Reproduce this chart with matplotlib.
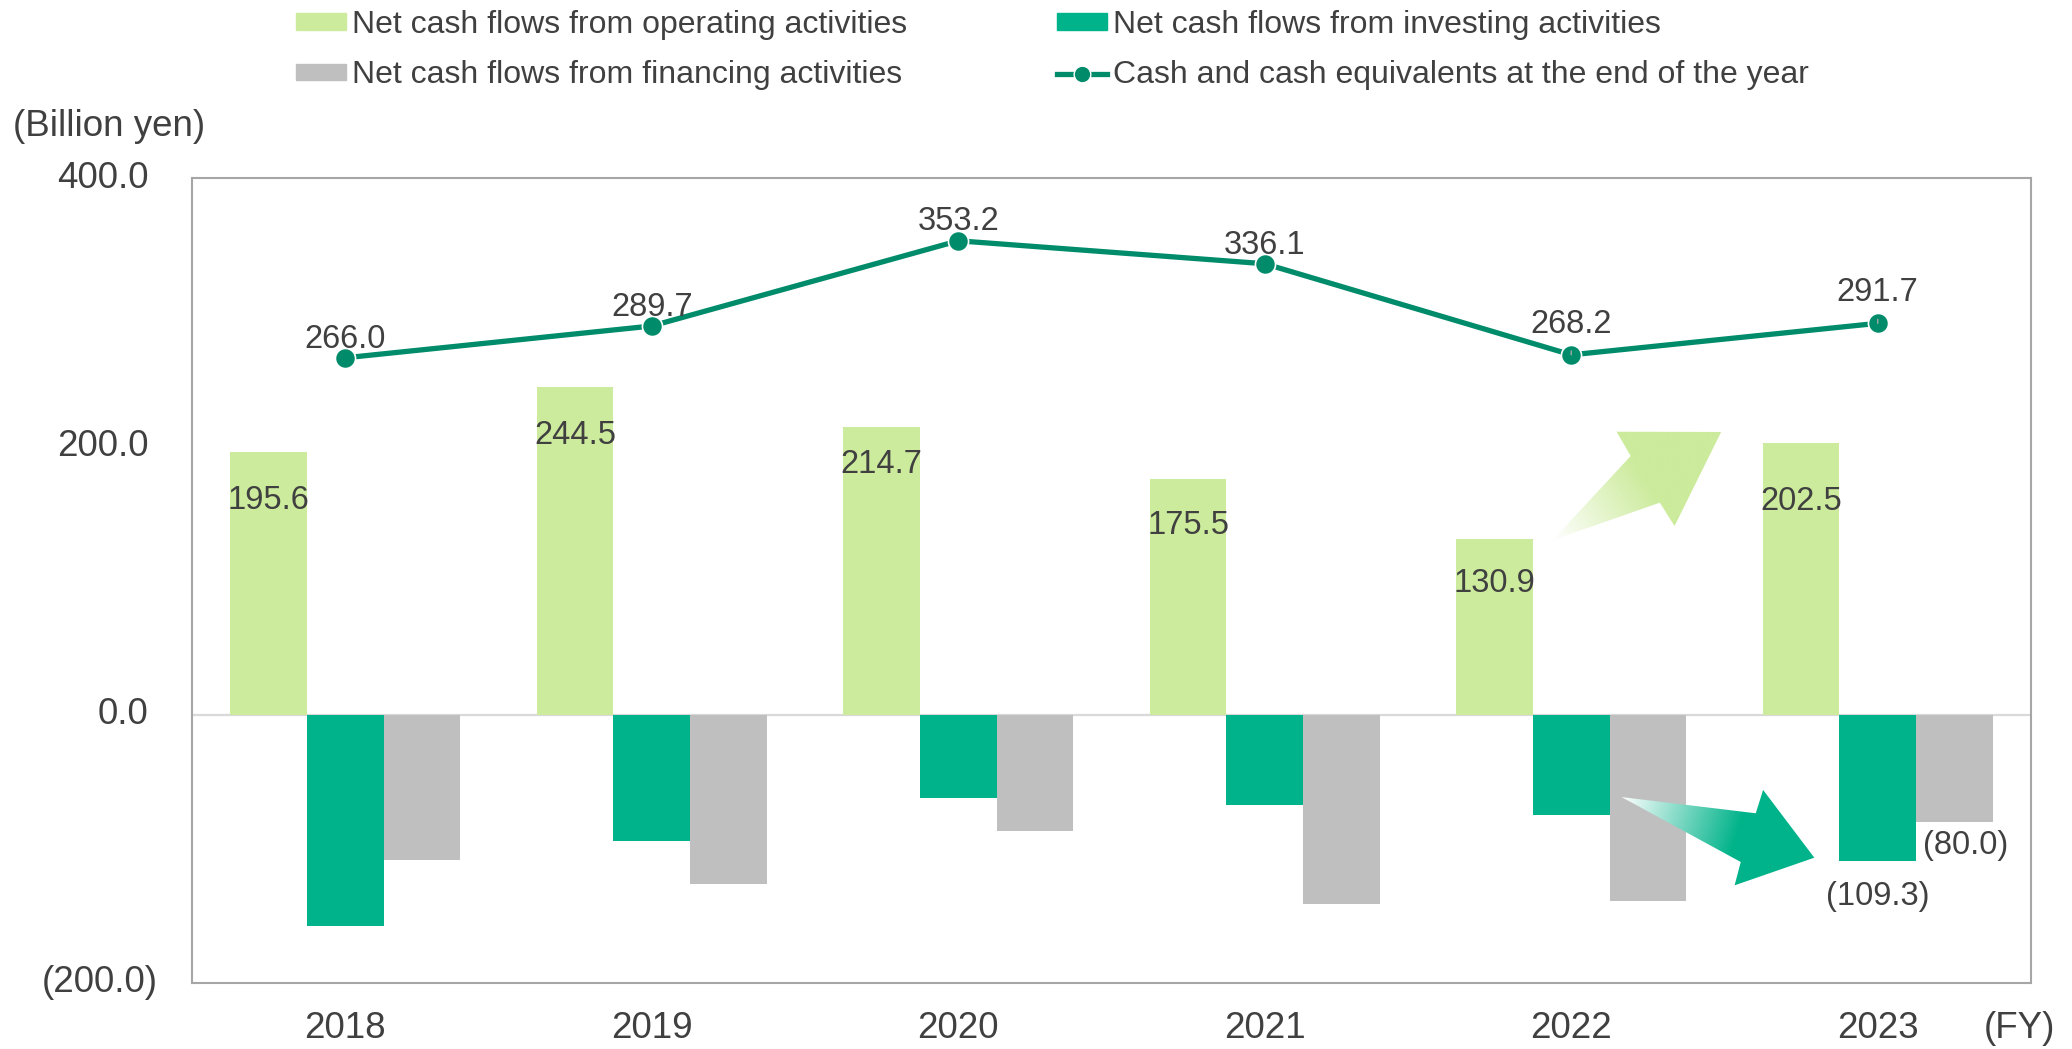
import numpy as np
import matplotlib
matplotlib.use("Agg")
import matplotlib.pyplot as plt
from matplotlib.patches import Polygon, Patch
from matplotlib.lines import Line2D

plt.rcParams['font.family'] = ['Liberation Sans', 'DejaVu Sans']

# data (billion yen)
years = ['2018', '2019', '2020', '2021', '2022', '2023']
operating = [195.6, 244.5, 214.7, 175.5, 130.9, 202.5]
investing = [-157.8, -94.2, -61.9, -67.3, -74.8, -109.3]
financing = [-108.3, -126.0, -87.0, -141.4, -138.9, -80.0]
cash_end = [266.0, 289.7, 353.2, 336.1, 268.2, 291.7]
yticks = [400, 200, 0, -200]

# label offsets in points (placed by hand in the original)
op_label_dy = [-35, -35, -27, -33, -32, -42]
cash_label_dy = [13, 13, 14, 13, 22, 22]

c_op = '#CCEB9C'
c_inv = '#00B38A'
c_fin = '#BFBFBF'
c_line = '#008C6A'
c_text = '#404040'
c_spine = '#A6A6A6'

fig = plt.figure(figsize=(20.72, 10.49), dpi=100)
ax = fig.add_axes([192 / 2072, 1 - 983 / 1049, (2031 - 192) / 2072, (983 - 178) / 1049])

x = np.arange(len(years))
w = 0.25
ax.bar(x - w, operating, w, color=c_op, zorder=2)
ax.bar(x, investing, w, color=c_inv, zorder=2)
ax.bar(x + w, financing, w, color=c_fin, zorder=2)
ax.axhline(0, color='#D9D9D9', lw=1.6, zorder=1)

ax.plot(x, cash_end, color=c_line, lw=3.8, marker='o', ms=14.5,
        mec='white', mew=1.2, zorder=4)

ax.set_xlim(-0.5, 5.5)
ax.set_ylim(-200, 400)

# decorative gradient arrows (data coords)
up_arrow = [(3.940, 130.2), (4.194, 192.8), (4.148, 210.9), (4.489, 210.7),
            (4.337, 140.6), (4.289, 158.0)]
down_arrow = [(4.164, -61.4), (4.602, -73.5), (4.626, -56.1), (4.793, -106.6),
              (4.533, -127.2), (4.553, -109.8)]


def grad_arrow(pts, color, frac):
    pts = np.array(pts)
    bb = ax.get_window_extent()
    sx = bb.width / 6.0
    sy = bb.height / 600.0
    poly = Polygon(pts, closed=True, fc='none', ec='none', zorder=3)
    ax.add_patch(poly)
    x0, x1 = pts[:, 0].min(), pts[:, 0].max()
    y0, y1 = pts[:, 1].min(), pts[:, 1].max()
    gx, gy = np.meshgrid(np.linspace(x0, x1, 300), np.linspace(y0, y1, 300))
    tail = pts[0]
    tip = pts[3]
    d = np.array([(tip[0] - tail[0]) * sx, (tip[1] - tail[1]) * sy])
    L = np.hypot(*d)
    t = ((gx - tail[0]) * sx * d[0] + (gy - tail[1]) * sy * d[1]) / (L * L)
    t = np.clip(t / frac, 0, 1)
    rgb = np.array(matplotlib.colors.to_rgb(color))
    img = np.ones((300, 300, 3)) * (1 - t[..., None]) + rgb * t[..., None]
    im = ax.imshow(img, extent=(x0, x1, y0, y1), origin='lower', aspect='auto',
                   zorder=3, interpolation='bilinear')
    im.set_clip_path(poly)


grad_arrow(up_arrow, c_op, 0.55)
grad_arrow(down_arrow, c_inv, 0.6)
ax.set_xlim(-0.5, 5.5)
ax.set_ylim(-200, 400)

# labels
for i, v in enumerate(operating):
    ax.annotate(f'{v:.1f}', (x[i] - w, v), xytext=(0, op_label_dy[i]), textcoords='offset points',
                ha='center', va='center', fontsize=23.5, color=c_text, zorder=5)
for i, v in enumerate(cash_end):
    if i >= 4:
        ax.annotate(f'{v:.1f}', (x[i], v), xytext=(0, cash_label_dy[i]), textcoords='offset points',
                    ha='center', va='center', fontsize=23.5, color=c_text, zorder=5,
                    arrowprops=dict(arrowstyle='-', color='#A6A6A6', lw=1,
                                    shrinkA=6, shrinkB=0))
    else:
        ax.annotate(f'{v:.1f}', (x[i], v), xytext=(0, cash_label_dy[i]), textcoords='offset points',
                    ha='center', va='center', fontsize=23.5, color=c_text, zorder=5)
ax.annotate(f'({-investing[5]:.1f})', (x[5], investing[5]), xytext=(0, -25.5),
            textcoords='offset points', ha='center', va='center', fontsize=23.5, color=c_text)
ax.annotate(f'({-financing[5]:.1f})', (x[5] + w, financing[5]), xytext=(8, -17),
            textcoords='offset points', ha='center', va='center', fontsize=23.5, color=c_text)

# axes styling
for s in ax.spines.values():
    s.set_color(c_spine)
    s.set_linewidth(1.5)
ax.set_xticks(x, years)
ax.tick_params(axis='x', length=0, pad=20, labelsize=26.5, labelcolor=c_text)
ax.set_yticks(yticks, [''] * len(yticks))
ax.tick_params(axis='y', length=0)
for v in yticks:
    lab = f'{v:.1f}' if v >= 0 else f'({-v:.1f})'
    off = -31.5 if v >= 0 else -24.5
    ax.annotate(lab, (0, v), xycoords=ax.get_yaxis_transform(), xytext=(off, 0),
                textcoords='offset points', ha='right', va='center',
                fontsize=26.5, color=c_text, annotation_clip=False)

fig.text(13 / 2072, 1 - 126 / 1049, '(Billion yen)', fontsize=26.5, color=c_text,
         ha='left', va='center')
fig.text(2055 / 2072, 1 - 1029 / 1049, '(FY)', fontsize=26.5, color=c_text,
         ha='right', va='center')

handles = [Patch(color=c_op), Patch(color=c_fin), Patch(color=c_inv),
           Line2D([], [], color=c_line, lw=3.8, marker='o', ms=12, mec='white', mew=1)]
labels = ['Net cash flows from operating activities', 'Net cash flows from financing activities',
          'Net cash flows from investing activities', 'Cash and cash equivalents at the end of the year']
leg = fig.legend(handles, labels, ncol=2, loc='upper left',
                 bbox_to_anchor=(296 / 2072, 1 - 10 / 1049), frameon=False,
                 fontsize=23, handlelength=1.57, handleheight=0.41, handletextpad=0.19,
                 columnspacing=4.67, labelspacing=0.64, borderpad=0, borderaxespad=0,
                 labelcolor=c_text)

fig.savefig('out.png', dpi=100)
